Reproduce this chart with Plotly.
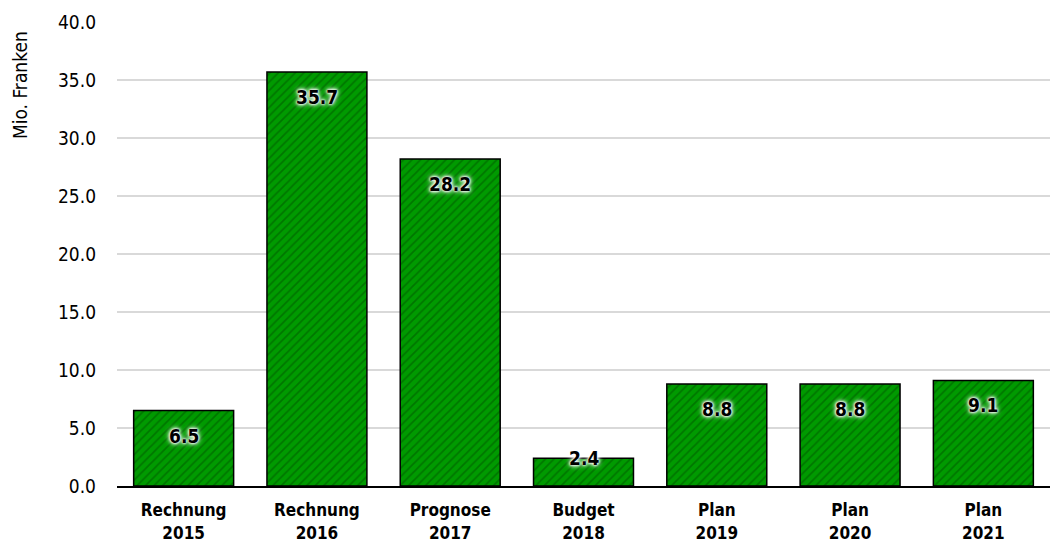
import plotly.graph_objects as go

categories = ["Rechnung<br>2015", "Rechnung<br>2016", "Prognose<br>2017", "Budget<br>2018",
              "Plan<br>2019", "Plan<br>2020", "Plan<br>2021"]
values = [6.5, 35.7, 28.2, 2.4, 8.8, 8.8, 9.1]
y_ticks = [0, 5, 10, 15, 20, 25, 30, 35, 40]

FONT = "DejaVu Sans Condensed, Liberation Sans Narrow, Arial Narrow, sans-serif"

fig = go.Figure()
fig.add_trace(go.Bar(
    x=categories,
    y=values,
    marker=dict(
        color="#009A00",
        line=dict(color="black", width=1.5),
        pattern=dict(shape="/", fgcolor="#005200", bgcolor="#009A00", size=6, solidity=0.3),
    ),
    hoverinfo="skip",
))

# value labels near the top of each bar, with a white halo
plot_h = 464
for cat, v in zip(categories, values):
    bar_px = v / 40 * plot_h
    shift = -25 if bar_px > 50 else 0
    fig.add_annotation(
        x=cat, y=v, yshift=shift, text=f"<b>{v:.1f}</b>", showarrow=False,
        font=dict(family=FONT, size=19, color="black",
                  shadow="0px 0px 2px white, 0px 0px 3px white, 0px 0px 4px white, 0px 0px 6px white"),
        xanchor="center", yanchor="middle",
    )

# unit label at the top of the value axis
fig.add_annotation(
    xref="paper", yref="paper", x=-0.104, y=0.864, text="Mio. Franken",
    textangle=-90, showarrow=False, xanchor="center", yanchor="middle",
    font=dict(family=FONT, size=19, color="black"),
)

fig.update_layout(
    width=1050, height=547,
    margin=dict(l=117, r=0, t=22, b=61),
    plot_bgcolor="white", paper_bgcolor="white",
    bargap=0.25,
    showlegend=False,
    font=dict(family=FONT, color="black"),
    xaxis=dict(
        showline=True, linecolor="black", linewidth=2,
        tickfont=dict(family=FONT, size=17, color="black", weight="bold"),
        ticks="", showgrid=False, ticklabelstandoff=8,
    ),
    yaxis=dict(
        range=[0, 40], tickvals=y_ticks, tickformat=".1f",
        showgrid=True, gridcolor="#D9D9D9", gridwidth=1.5,
        zeroline=False, showline=False, ticks="",
        tickfont=dict(family=FONT, size=19, color="black"),
        ticklabelstandoff=20,
    ),
)

fig.write_html("out.html")
